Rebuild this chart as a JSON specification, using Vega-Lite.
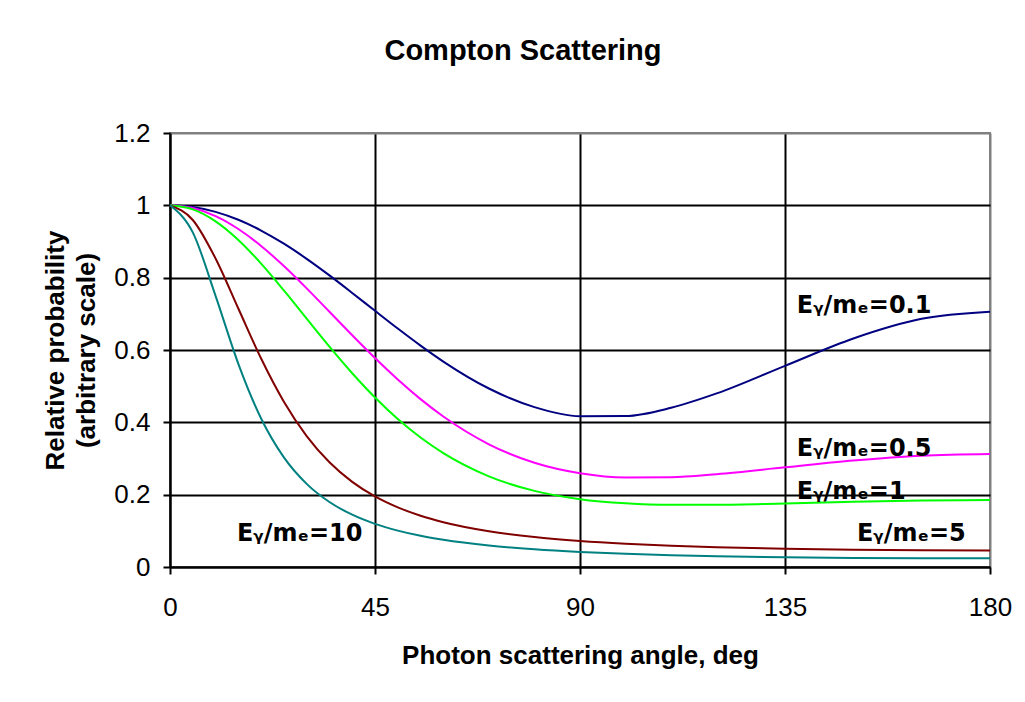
{
  "$schema": "https://vega.github.io/schema/vega-lite/v6.json",
  "width": 820,
  "height": 434,
  "autosize": {"type": "none"},
  "padding": {"left": 170, "top": 133, "right": 35, "bottom": 135},
  "background": "white",
  "config": {
    "view": {"stroke": "#808080", "strokeWidth": 2},
    "font": "Liberation Sans"
  },
  "title": {
    "text": "Compton Scattering",
    "font": "Liberation Sans",
    "fontSize": 29,
    "fontWeight": "bold",
    "color": "black",
    "anchor": "middle",
    "frame": "group",
    "baseline": "alphabetic",
    "offset": 31,
    "dx": -57
  },
  "datasets": {
    "curves": [
      {"r": "0.1", "a": 0, "p": 1}, {"r": "0.1", "a": 5, "p": 0.9954}, {"r": "0.1", "a": 10, "p": 0.9819}, {"r": "0.1", "a": 15, "p": 0.96}, {"r": "0.1", "a": 20, "p": 0.9303}, {"r": "0.1", "a": 25, "p": 0.8939}, {"r": "0.1", "a": 30, "p": 0.8521}, {"r": "0.1", "a": 35, "p": 0.8063}, {"r": "0.1", "a": 40, "p": 0.7578}, {"r": "0.1", "a": 45, "p": 0.7083}, {"r": "0.1", "a": 50, "p": 0.6593}, {"r": "0.1", "a": 55, "p": 0.6121}, {"r": "0.1", "a": 60, "p": 0.568}, {"r": "0.1", "a": 70, "p": 0.4935}, {"r": "0.1", "a": 80, "p": 0.4421}, {"r": "0.1", "a": 90, "p": 0.417}, {"r": "0.1", "a": 100, "p": 0.4175}, {"r": "0.1", "a": 110, "p": 0.4403}, {"r": "0.1", "a": 120, "p": 0.48}, {"r": "0.1", "a": 135, "p": 0.5563}, {"r": "0.1", "a": 150, "p": 0.6319}, {"r": "0.1", "a": 165, "p": 0.6863}, {"r": "0.1", "a": 180, "p": 0.706},
      {"r": "0.5", "a": 0, "p": 1}, {"r": "0.5", "a": 5, "p": 0.9924}, {"r": "0.5", "a": 10, "p": 0.9702}, {"r": "0.5", "a": 15, "p": 0.9345}, {"r": "0.5", "a": 20, "p": 0.8876}, {"r": "0.5", "a": 25, "p": 0.832}, {"r": "0.5", "a": 30, "p": 0.7704}, {"r": "0.5", "a": 35, "p": 0.7058}, {"r": "0.5", "a": 40, "p": 0.6408}, {"r": "0.5", "a": 45, "p": 0.5777}, {"r": "0.5", "a": 50, "p": 0.5184}, {"r": "0.5", "a": 55, "p": 0.4642}, {"r": "0.5", "a": 60, "p": 0.416}, {"r": "0.5", "a": 70, "p": 0.3393}, {"r": "0.5", "a": 80, "p": 0.2882}, {"r": "0.5", "a": 90, "p": 0.2593}, {"r": "0.5", "a": 100, "p": 0.2476}, {"r": "0.5", "a": 110, "p": 0.2483}, {"r": "0.5", "a": 120, "p": 0.2566}, {"r": "0.5", "a": 135, "p": 0.2755}, {"r": "0.5", "a": 150, "p": 0.2944}, {"r": "0.5", "a": 165, "p": 0.3078}, {"r": "0.5", "a": 180, "p": 0.3125},
      {"r": "1", "a": 0, "p": 1}, {"r": "1", "a": 5, "p": 0.9887}, {"r": "1", "a": 10, "p": 0.9558}, {"r": "1", "a": 15, "p": 0.9044}, {"r": "1", "a": 20, "p": 0.839}, {"r": "1", "a": 25, "p": 0.7647}, {"r": "1", "a": 30, "p": 0.6866}, {"r": "1", "a": 35, "p": 0.6091}, {"r": "1", "a": 40, "p": 0.5356}, {"r": "1", "a": 45, "p": 0.4685}, {"r": "1", "a": 50, "p": 0.4091}, {"r": "1", "a": 55, "p": 0.3579}, {"r": "1", "a": 60, "p": 0.3148}, {"r": "1", "a": 70, "p": 0.2507}, {"r": "1", "a": 80, "p": 0.2105}, {"r": "1", "a": 90, "p": 0.1875}, {"r": "1", "a": 100, "p": 0.1761}, {"r": "1", "a": 110, "p": 0.1719}, {"r": "1", "a": 120, "p": 0.172}, {"r": "1", "a": 135, "p": 0.1758}, {"r": "1", "a": 150, "p": 0.1805}, {"r": "1", "a": 165, "p": 0.1839}, {"r": "1", "a": 180, "p": 0.1852},
      {"r": "5", "a": 0, "p": 1}, {"r": "5", "a": 5, "p": 0.9595}, {"r": "5", "a": 10, "p": 0.8531}, {"r": "5", "a": 15, "p": 0.7147}, {"r": "5", "a": 20, "p": 0.5764}, {"r": "5", "a": 25, "p": 0.457}, {"r": "5", "a": 30, "p": 0.362}, {"r": "5", "a": 35, "p": 0.2896}, {"r": "5", "a": 40, "p": 0.2355}, {"r": "5", "a": 45, "p": 0.1951}, {"r": "5", "a": 50, "p": 0.1648}, {"r": "5", "a": 55, "p": 0.1417}, {"r": "5", "a": 60, "p": 0.1239}, {"r": "5", "a": 70, "p": 0.0989}, {"r": "5", "a": 80, "p": 0.0827}, {"r": "5", "a": 90, "p": 0.0718}, {"r": "5", "a": 100, "p": 0.0641}, {"r": "5", "a": 110, "p": 0.0585}, {"r": "5", "a": 120, "p": 0.0544}, {"r": "5", "a": 135, "p": 0.0503}, {"r": "5", "a": 150, "p": 0.0477}, {"r": "5", "a": 165, "p": 0.0463}, {"r": "5", "a": 180, "p": 0.0458},
      {"r": "10", "a": 0, "p": 1}, {"r": "10", "a": 5, "p": 0.9251}, {"r": "10", "a": 10, "p": 0.7498}, {"r": "10", "a": 15, "p": 0.5618}, {"r": "10", "a": 20, "p": 0.4105}, {"r": "10", "a": 25, "p": 0.3031}, {"r": "10", "a": 30, "p": 0.2299}, {"r": "10", "a": 35, "p": 0.1797}, {"r": "10", "a": 40, "p": 0.1446}, {"r": "10", "a": 45, "p": 0.1193}, {"r": "10", "a": 50, "p": 0.1006}, {"r": "10", "a": 55, "p": 0.0863}, {"r": "10", "a": 60, "p": 0.0752}, {"r": "10", "a": 70, "p": 0.0594}, {"r": "10", "a": 80, "p": 0.049}, {"r": "10", "a": 90, "p": 0.0417}, {"r": "10", "a": 100, "p": 0.0365}, {"r": "10", "a": 110, "p": 0.0327}, {"r": "10", "a": 120, "p": 0.0299}, {"r": "10", "a": 135, "p": 0.027}, {"r": "10", "a": 150, "p": 0.0252}, {"r": "10", "a": 165, "p": 0.0242}, {"r": "10", "a": 180, "p": 0.0239}
    ],
    "labels": [
      {"label": "Eᵧ/mₑ=0.1", "a": 137.6, "p": 0.702},
      {"label": "Eᵧ/mₑ=0.5", "a": 137.6, "p": 0.307},
      {"label": "Eᵧ/mₑ=1", "a": 137.6, "p": 0.188},
      {"label": "Eᵧ/mₑ=5", "a": 150.8, "p": 0.072},
      {"label": "Eᵧ/mₑ=10", "a": 14.7, "p": 0.072}
    ]
  },
  "layer": [
    {
      "data": {"name": "curves"},
      "mark": {"type": "line", "strokeWidth": 2, "interpolate": "monotone"},
      "encoding": {
        "x": {
          "field": "a", "type": "quantitative",
          "scale": {"domain": [0, 180], "nice": false, "zero": false},
          "axis": {
            "values": [0, 45, 90, 135, 180],
            "labelFlush": false,
            "title": "Photon scattering angle, deg",
            "titleFont": "Liberation Sans", "titleFontSize": 26, "titleFontWeight": "bold", "titleColor": "black", "titlePadding": 22,
            "labelFont": "Liberation Sans", "labelFontSize": 26, "labelColor": "black", "labelPadding": 20,
            "tickSize": 7, "tickColor": "black", "tickWidth": 2,
            "domainColor": "black", "domainWidth": 2,
            "grid": true, "gridWidth": 2, "gridOpacity": 1,
            "gridColor": {"condition": {"test": "datum.value === 180", "value": "#808080"}, "value": "black"}
          }
        },
        "y": {
          "field": "p", "type": "quantitative",
          "scale": {"domain": [0, 1.2], "nice": false},
          "axis": {
            "values": [0, 0.2, 0.4, 0.6, 0.8, 1, 1.2],
            "format": "~g",
            "labelFlush": false,
            "title": ["Relative probability", "(arbitrary scale)"],
            "titleFont": "Liberation Sans", "titleFontSize": 26, "titleFontWeight": "bold", "titleColor": "black", "titlePadding": 14, "titleLineHeight": 31,
            "labelFont": "Liberation Sans", "labelFontSize": 26, "labelColor": "black", "labelPadding": 13,
            "tickSize": 7, "tickColor": "black", "tickWidth": 2,
            "domainColor": "black", "domainWidth": 2,
            "grid": true, "gridWidth": 2, "gridOpacity": 1,
            "gridColor": {"condition": {"test": "datum.value === 1.2", "value": "#808080"}, "value": "black"}
          }
        },
        "color": {
          "field": "r", "type": "nominal",
          "scale": {"domain": ["0.1", "0.5", "1", "5", "10"], "range": ["#000080", "#FF00FF", "#00FF00", "#800000", "#008080"]},
          "legend": null
        }
      }
    },
    {
      "data": {"name": "labels"},
      "mark": {"type": "text", "font": "DejaVu Sans", "fontWeight": "bold", "fontSize": 24, "align": "left", "baseline": "alphabetic", "color": "black"},
      "encoding": {
        "x": {"field": "a", "type": "quantitative"},
        "y": {"field": "p", "type": "quantitative"},
        "text": {"field": "label"}
      }
    }
  ]
}
